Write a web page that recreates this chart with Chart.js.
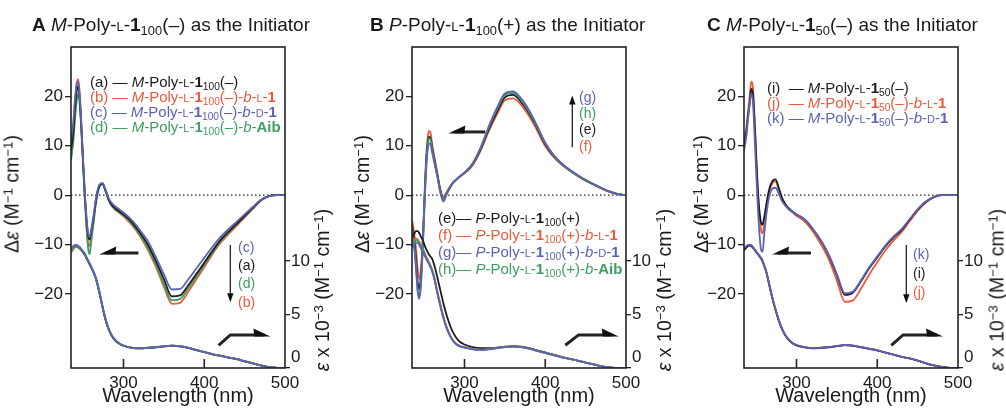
<!DOCTYPE html>
<html>
<head>
<meta charset="utf-8">
<script src="https://cdn.jsdelivr.net/npm/chart.js@4.4.1/dist/chart.umd.min.js"></script>
<style>
body{margin:0;background:#fff}
#fig{position:relative;width:1006px;height:411px;overflow:hidden;background:#fff;font-family:'Liberation Sans',Arial,Helvetica,sans-serif;color:#1a1a1a}
canvas{position:absolute;top:0}
.t{position:absolute;white-space:nowrap}
.sc{font-variant:small-caps}
sub{font-size:68%;vertical-align:-0.3em;line-height:0}
sup{font-size:68%;vertical-align:0.45em;line-height:0}
.ttl{font-size:19px;top:14px}
.leg{font-size:15px;line-height:15px}
.ax{font-size:19.5px;transform:translate(-50%,-50%) rotate(-90deg)}
.lab{font-size:14px;line-height:18px}
.k{color:#1c1c1c}.r{color:#ec5a3c}.b{color:#5c63b5}.g{color:#3f9e62}
</style>
</head>
<body>
<div id="fig">
<canvas id="cA"></canvas>
<canvas id="cB"></canvas>
<canvas id="cC"></canvas>

<div class="t ttl" style="left:32px"><b>A</b> <i>M</i>-Poly-<span class="sc">l</span>-<b>1</b><sub>100</sub>(–) as the Initiator</div>
<div class="t ttl" style="left:370px"><b>B</b> <i>P</i>-Poly-<span class="sc">l</span>-<b>1</b><sub>100</sub>(+) as the Initiator</div>
<div class="t ttl" style="left:707px"><b>C</b> <i>M</i>-Poly-<span class="sc">l</span>-<b>1</b><sub>50</sub>(–) as the Initiator</div>

<div class="t leg" style="left:90px;top:74px">
<div class="k">(a) — <i>M</i>-Poly-<span class="sc">l</span>-<b>1</b><sub>100</sub>(–)</div>
<div class="r">(b) — <i>M</i>-Poly-<span class="sc">l</span>-<b>1</b><sub>100</sub>(–)-<i>b</i>-<span class="sc">l</span>-<b>1</b></div>
<div class="b">(c) — <i>M</i>-Poly-<span class="sc">l</span>-<b>1</b><sub>100</sub>(–)-<i>b</i>-<span class="sc">d</span>-<b>1</b></div>
<div class="g">(d) — <i>M</i>-Poly-<span class="sc">l</span>-<b>1</b><sub>100</sub>(–)-<i>b</i>-<b>Aib</b></div>
</div>
<div class="t leg" style="left:438px;top:209px;line-height:17px">
<div class="k">(e)— <i>P</i>-Poly-<span class="sc">l</span>-<b>1</b><sub>100</sub>(+)</div>
<div class="r">(f) — <i>P</i>-Poly-<span class="sc">l</span>-<b>1</b><sub>100</sub>(+)-<i>b</i>-<span class="sc">l</span>-<b>1</b></div>
<div class="b">(g)— <i>P</i>-Poly-<span class="sc">l</span>-<b>1</b><sub>100</sub>(+)-<i>b</i>-<span class="sc">d</span>-<b>1</b></div>
<div class="g">(h)— <i>P</i>-Poly-<span class="sc">l</span>-<b>1</b><sub>100</sub>(+)-<i>b</i>-<b>Aib</b></div>
</div>
<div class="t leg" style="left:767px;top:80px">
<div class="k">(i)&nbsp; — <i>M</i>-Poly-<span class="sc">l</span>-<b>1</b><sub>50</sub>(–)</div>
<div class="r">(j)&nbsp; — <i>M</i>-Poly-<span class="sc">l</span>-<b>1</b><sub>50</sub>(–)-<i>b</i>-<span class="sc">l</span>-<b>1</b></div>
<div class="b">(k) — <i>M</i>-Poly-<span class="sc">l</span>-<b>1</b><sub>50</sub>(–)-<i>b</i>-<span class="sc">d</span>-<b>1</b></div>
</div>

<div class="t lab b" style="left:238px;top:238px">(c)</div>
<div class="t lab k" style="left:238px;top:256px">(a)</div>
<div class="t lab g" style="left:238px;top:274px">(d)</div>
<div class="t lab r" style="left:238px;top:293px">(b)</div>
<div class="t lab b" style="left:579px;top:88px">(g)</div>
<div class="t lab g" style="left:579px;top:104px">(h)</div>
<div class="t lab k" style="left:579px;top:120px">(e)</div>
<div class="t lab r" style="left:579px;top:137px">(f)</div>
<div class="t lab b" style="left:913px;top:245px">(k)</div>
<div class="t lab k" style="left:913px;top:264px">(i)</div>
<div class="t lab r" style="left:913px;top:283px">(j)</div>

<div class="t ax" style="left:12px;top:194px">Δ<i>ε</i> (M<sup>−1</sup> cm<sup>−1</sup>)</div>
<div class="t ax" style="left:362px;top:194px">Δ<i>ε</i> (M<sup>−1</sup> cm<sup>−1</sup>)</div>
<div class="t ax" style="left:701px;top:194px">Δ<i>ε</i> (M<sup>−1</sup> cm<sup>−1</sup>)</div>
<div class="t ax" style="left:322px;top:290px"><i>ε</i> x 10<sup>−3</sup> (M<sup>−1</sup> cm<sup>−1</sup>)</div>
<div class="t ax" style="left:664px;top:290px"><i>ε</i> x 10<sup>−3</sup> (M<sup>−1</sup> cm<sup>−1</sup>)</div>
<div class="t ax" style="left:997px;top:290px"><i>ε</i> x 10<sup>−3</sup> (M<sup>−1</sup> cm<sup>−1</sup>)</div>
</div>

<script>
// wavelength grid (nm) shared by every spectrum
const wl = [235,238,240,242,244,246,248,250,252,254,256,258,260,263,266,270,274,278,282,286,290,295,300,310,320,330,340,350,360,370,380,390,400,410,420,430,440,450,460,470,480,490,500];

// tick labels
const xTicks = [300, 400, 500];
const innerXTicks = [300, 400];
const cdTicks = [-20, -10, 0, 10, 20];
const absTicks = [0, 5, 10];

// panel A: CD (Δε) and absorption (ε x 10^-3)
const cdA_a = [9,13,17.5,21,22,19,13,6.5,0.5,-4.5,-8,-9,-7.5,-4.5,-1,1.8,2.3,0.8,-1,-2.1,-2.7,-3.3,-3.9,-5.4,-7.5,-10,-13.3,-17,-20.5,-20.3,-18.3,-16,-13.7,-11.3,-9.1,-7.4,-5.8,-4.2,-2.6,-1,-0.2,0,0];
const cdA_b = [10,14.5,19,22.5,23.5,20,14,7,0,-5.5,-9.5,-10.3,-8.5,-5,-1.2,1.9,2.5,0.9,-1.1,-2.3,-3,-3.6,-4.3,-6,-8.2,-11,-14.5,-18.5,-22,-21.8,-19.6,-17.1,-14.6,-12,-9.7,-7.9,-6.2,-4.5,-2.8,-1.1,-0.2,0,0];
const cdA_c = [11,15,19.5,22.5,23,19.5,13.5,7,1,-4,-7.5,-8.5,-7,-4,-0.5,2.1,2.4,1,-0.7,-1.7,-2.3,-2.9,-3.5,-5,-7,-9.3,-12.5,-16,-19.1,-19,-17.1,-14.9,-12.7,-10.5,-8.5,-6.9,-5.4,-3.9,-2.4,-1,-0.2,0,0];
const cdA_d = [7,11,15.5,19,20.5,18,12.5,6,-0.5,-6,-10.5,-12,-9.5,-5.5,-1.5,1.6,2.2,0.7,-1.1,-2.2,-2.9,-3.5,-4.1,-5.7,-7.9,-10.6,-14,-18,-21.3,-21,-18.9,-16.5,-14.1,-11.7,-9.4,-7.6,-5.9,-4.3,-2.7,-1.1,-0.2,0,0];
const absA_a = [11.1,11.3,11.4,11.4,11.3,11.2,11.0,10.8,10.6,10.3,10.0,9.7,9.4,8.9,8.3,7.1,5.7,4.45,3.55,2.95,2.55,2.27,2.08,1.88,1.83,1.88,1.93,2.03,2.08,2.03,1.88,1.68,1.48,1.28,1.13,0.98,0.83,0.63,0.43,0.24,0.07,0.02,0];
const absA_b = [10.8,11.1,11.3,11.3,11.25,11.15,11.0,10.8,10.6,10.3,10.0,9.7,9.4,8.9,8.3,7.1,5.7,4.45,3.55,2.95,2.55,2.27,2.08,1.88,1.83,1.88,1.93,2.03,2.08,2.03,1.88,1.68,1.48,1.28,1.13,0.98,0.83,0.63,0.43,0.24,0.07,0.02,0];
const absA_c = [11.2,11.4,11.5,11.5,11.4,11.3,11.1,10.9,10.7,10.4,10.1,9.8,9.5,9.0,8.4,7.2,5.8,4.5,3.6,3.0,2.6,2.3,2.1,1.9,1.85,1.9,1.95,2.05,2.1,2.05,1.9,1.7,1.5,1.3,1.15,1.0,0.85,0.65,0.45,0.25,0.08,0.02,0];
const absA_d = [11.0,11.2,11.35,11.4,11.3,11.2,11.0,10.85,10.65,10.35,10.05,9.75,9.45,8.95,8.35,7.15,5.75,4.5,3.6,3.0,2.6,2.3,2.1,1.9,1.84,1.89,1.94,2.04,2.09,2.04,1.89,1.69,1.49,1.29,1.14,0.99,0.84,0.64,0.44,0.25,0.08,0.02,0];

// panel B
const cdB_e = [-6,-9.5,-13,-17.5,-19,-16.5,-11,-3,5,10,11.8,11.5,9.5,7,4.5,1.0,-0.8,0.4,1.6,2.6,3.2,3.9,4.5,6.2,9.3,13.3,16.8,19.8,20.3,18.9,16.6,13.6,10.3,8.0,6.4,5.1,4.0,3.0,2.2,1.4,0.7,0.2,0];
const cdB_f = [-5,-8,-11,-15,-17,-15,-10,-2,6,11,13,12.6,10.3,7.5,4.8,1.3,-0.3,0.6,1.7,2.6,3.1,3.8,4.4,6.0,9.0,12.9,16.3,19.2,19.6,18.3,16.0,13.1,9.9,7.8,6.2,5.0,3.9,2.9,2.1,1.3,0.6,0.2,0];
const cdB_g = [-7,-11,-15,-19.5,-21,-18.5,-12,-4,3.5,8.5,10.5,10.3,8.6,6.3,4.0,0.6,-1.3,0.2,1.5,2.5,3.2,3.9,4.6,6.4,9.7,13.9,17.6,20.6,21.0,19.6,17.2,14.0,10.6,8.2,6.5,5.2,4.1,3.1,2.2,1.4,0.7,0.2,0];
const cdB_h = [-6.5,-10.5,-14.5,-19,-20.5,-18,-11.5,-3.5,4.5,9.5,11.5,11.2,9.2,6.7,4.3,0.8,-1.0,0.3,1.5,2.5,3.2,3.9,4.5,6.3,9.5,13.7,17.3,20.3,20.7,19.3,16.9,13.8,10.5,8.1,6.4,5.1,4.0,3.0,2.2,1.4,0.7,0.2,0];
const absB_e = [12.2,12.6,12.8,12.8,12.6,12.3,12.0,11.6,11.2,10.9,10.6,10.4,10.2,9.5,8.6,7.3,6.0,4.9,4.0,3.3,2.8,2.4,2.2,1.95,1.85,1.85,1.9,2.0,2.05,2.0,1.85,1.65,1.45,1.25,1.05,0.85,0.7,0.5,0.33,0.15,0.05,0,0];
const absB_f = [11.7,12.0,12.1,12.0,11.8,11.5,11.2,10.9,10.5,10.2,9.9,9.6,9.2,8.4,7.3,6.0,4.8,3.8,3.1,2.6,2.25,2.05,1.95,1.8,1.72,1.77,1.87,1.97,2.02,1.97,1.82,1.62,1.42,1.22,1.02,0.86,0.7,0.5,0.33,0.15,0.05,0,0];
const absB_g = [11.3,11.6,11.7,11.7,11.5,11.2,10.9,10.6,10.3,10.0,9.7,9.4,9.0,8.2,7.1,5.8,4.6,3.7,3.0,2.5,2.2,2.0,1.9,1.75,1.7,1.75,1.85,1.95,2.0,1.95,1.8,1.6,1.4,1.2,1.0,0.85,0.7,0.5,0.33,0.15,0.05,0,0];
const absB_h = [11.5,11.8,11.9,11.9,11.7,11.4,11.1,10.8,10.4,10.1,9.8,9.5,9.1,8.3,7.2,5.9,4.7,3.75,3.05,2.55,2.22,2.02,1.92,1.77,1.71,1.76,1.86,1.96,2.01,1.96,1.81,1.61,1.41,1.21,1.01,0.85,0.7,0.5,0.33,0.15,0.05,0,0];

// panel C
const cdC_i = [10,13,16,18.5,21.5,20.5,15,8,1.5,-3,-5.5,-6,-4.5,-1.5,1,2.8,3.2,1.5,-0.5,-1.8,-2.6,-3.3,-3.9,-4.9,-6.8,-9.2,-12.2,-16.2,-20.2,-19.7,-17.4,-14.8,-12.6,-10.4,-8.6,-7.1,-5.0,-3.0,-1.4,-0.4,0,0,0];
const cdC_j = [10.5,13.5,17,20,23,22,16,8.5,1,-4,-7,-7.7,-6,-2.5,0.5,2.4,2.8,1.2,-0.8,-2.0,-2.8,-3.5,-4.2,-5.3,-7.3,-9.9,-13.0,-17.3,-21.6,-21.3,-18.9,-16.1,-13.6,-11.2,-9.2,-7.5,-5.3,-3.2,-1.5,-0.4,0,0,0];
const cdC_k = [9,12,15.5,18.5,20.5,19,12.5,5,-2,-7.5,-11,-11.5,-8,-3.5,-0.5,1.3,1.5,0.3,-1.2,-2.1,-2.8,-3.4,-3.9,-4.9,-6.8,-9.1,-12.1,-16.0,-19.9,-19.5,-17.2,-14.6,-12.4,-10.2,-8.4,-6.9,-4.9,-2.9,-1.3,-0.4,0,0,0];
const absC_i = [11.0,11.25,11.4,11.45,11.4,11.25,11.05,10.85,10.65,10.45,10.25,9.95,9.55,8.85,7.85,6.55,5.45,4.45,3.65,3.05,2.65,2.32,2.12,1.93,1.84,1.88,1.94,2.04,2.13,2.08,1.94,1.79,1.64,1.44,1.24,1.04,0.89,0.69,0.44,0.24,0.1,0.02,0];
const absC_j = [11.1,11.3,11.45,11.5,11.45,11.3,11.1,10.9,10.7,10.5,10.3,10.0,9.6,8.9,7.9,6.6,5.5,4.5,3.7,3.1,2.7,2.35,2.15,1.95,1.85,1.9,1.95,2.05,2.15,2.1,1.95,1.8,1.65,1.45,1.25,1.05,0.9,0.7,0.45,0.25,0.1,0.02,0];
const absC_k = [11.2,11.4,11.5,11.5,11.5,11.3,11.1,10.9,10.7,10.5,10.3,10.0,9.6,8.9,7.9,6.6,5.5,4.5,3.7,3.1,2.7,2.35,2.15,1.95,1.85,1.9,1.95,2.05,2.15,2.1,1.95,1.8,1.65,1.45,1.25,1.05,0.9,0.7,0.45,0.25,0.1,0.02,0];

// annotation arrows, in data units [nm, Δε]
const harpA = [[[318.5,-11.7],[270,-11.7]], [[417.8,-30.4],[432.3,-28.3],[481.9,-28.3]]];
const harpB = [[[325.6,12.8],[280,12.8]], [[424.8,-30.4],[441.3,-28.3],[491,-28.3]]];
const harpC = [[[318,-11.7],[269.7,-11.7]], [[417.4,-30.4],[432,-28.3],[481.5,-28.3]]];
const arrowA = {x: 432.3, from: -10.1, to: -21.7};
const arrowB = {x: 433.5, from: 9.7, to: 20.2};
const arrowC = {x: 436, from: -10.1, to: -21.9};

const K = '#1c1c1c', R = '#ec5a3c', B = '#5c63b5', G = '#3f9e62';
const INK = '#1a1a1a';

Chart.defaults.font.family = "'Liberation Sans', Arial, Helvetica, sans-serif";
Chart.defaults.color = INK;

function harpoon(ctx, pts) {
    const n = pts.length;
    const [tx, ty] = pts[n - 1], [px, py] = pts[n - 2];
    const len = Math.hypot(tx - px, ty - py);
    const ux = (tx - px) / len, uy = (ty - py) / len;
    ctx.lineWidth = 3;
    ctx.lineJoin = 'miter';
    ctx.beginPath();
    ctx.moveTo(pts[0][0], pts[0][1]);
    for (let i = 1; i < n - 1; i++) ctx.lineTo(pts[i][0], pts[i][1]);
    ctx.lineTo(tx - ux * 6, ty - uy * 6);
    ctx.stroke();
    ctx.beginPath();
    ctx.moveTo(tx, ty + 1.5);
    ctx.lineTo(tx - ux * 16, ty - uy * 16 + 1.5);
    ctx.lineTo(tx - ux * 17, ty - uy * 17 - 6.5);
    ctx.closePath();
    ctx.fill();
}

function vArrow(ctx, x, y0, y1) {
    const d = Math.sign(y1 - y0);
    ctx.lineWidth = 1.3;
    ctx.beginPath();
    ctx.moveTo(x, y0);
    ctx.lineTo(x, y1 - d * 7);
    ctx.stroke();
    ctx.beginPath();
    ctx.moveTo(x, y1);
    ctx.lineTo(x - 3.2, y1 - d * 9);
    ctx.lineTo(x + 3.2, y1 - d * 9);
    ctx.closePath();
    ctx.fill();
}

const decor = {
    id: 'decor',
    beforeDatasetsDraw(chart) {
        const {ctx, chartArea: a, scales: {y}} = chart;
        const y0 = y.getPixelForValue(0);
        ctx.save();
        ctx.strokeStyle = '#222';
        ctx.lineWidth = 1.2;
        ctx.setLineDash([1.5, 2.5]);
        ctx.beginPath();
        ctx.moveTo(a.left, y0);
        ctx.lineTo(a.right, y0);
        ctx.stroke();
        ctx.restore();
    },
    afterDraw(chart, args, o) {
        const {ctx, chartArea: a, scales: {x, y}} = chart;
        ctx.save();
        ctx.strokeStyle = '#222';
        ctx.fillStyle = '#111';
        ctx.lineWidth = 1.6;
        ctx.strokeRect(a.left, a.top, a.right - a.left, a.bottom - a.top);
        innerXTicks.forEach(v => {
            const px = x.getPixelForValue(v);
            ctx.beginPath();
            ctx.moveTo(px, a.bottom);
            ctx.lineTo(px, a.bottom - 9);
            ctx.stroke();
        });
        (o.harpoons || []).forEach(h => harpoon(ctx, h.map(p => [x.getPixelForValue(p[0]), y.getPixelForValue(p[1])])));
        if (o.arrow) vArrow(ctx, x.getPixelForValue(o.arrow.x), y.getPixelForValue(o.arrow.from), y.getPixelForValue(o.arrow.to));
        // the 0 of the right axis sits just above the bottom frame
        ctx.fillStyle = INK;
        ctx.font = "17px 'Liberation Sans', Arial, sans-serif";
        ctx.textBaseline = 'middle';
        ctx.textAlign = 'left';
        ctx.fillText('0', a.right + 6, a.bottom - 11);
        ctx.restore();
    }
};

function series(values, color, axis) {
    return {
        data: values.map((v, i) => ({x: wl[i], y: v})),
        borderColor: color,
        borderWidth: 1.8,
        yAxisID: axis,
        pointRadius: 0,
        cubicInterpolationMode: 'monotone',
        fill: false
    };
}

function fmt(v) {
    return v < 0 ? '\u2212' + Math.abs(v) : String(v);
}

function makePanel(id, left, width, leftW, rightW, datasets, deco) {
    const cv = document.getElementById(id);
    cv.width = width;
    cv.height = 411;
    cv.style.left = left + 'px';
    return new Chart(cv.getContext('2d'), {
        type: 'line',
        data: {datasets: datasets},
        options: {
            responsive: false,
            animation: false,
            events: [],
            layout: {padding: {top: 47, left: 0, right: 0, bottom: 0}},
            plugins: {legend: {display: false}, tooltip: {enabled: false}, decor: deco},
            scales: {
                x: {
                    type: 'linear', min: 235, max: 500,
                    afterBuildTicks: s => { s.ticks = xTicks.map(v => ({value: v})); },
                    afterFit: s => { s.height = 43; },
                    grid: {display: false, drawTicks: false},
                    border: {display: false},
                    ticks: {padding: 5, font: {size: 17}, maxRotation: 0, autoSkip: false},
                    title: {display: true, text: 'Wavelength (nm)', font: {size: 20}, padding: {top: 0, bottom: 3}}
                },
                y: {
                    position: 'left', min: -35, max: 30,
                    afterBuildTicks: s => { s.ticks = cdTicks.map(v => ({value: v})); },
                    afterFit: s => { s.width = leftW; },
                    grid: {drawOnChartArea: false, tickLength: 6, color: '#222', lineWidth: 1.3},
                    border: {display: false},
                    ticks: {padding: 2, font: {size: 17}, callback: v => fmt(v)}
                },
                y1: {
                    position: 'right', min: 0, max: 30,
                    afterBuildTicks: s => { s.ticks = absTicks.map(v => ({value: v})); },
                    afterFit: s => { s.width = rightW; },
                    grid: {drawOnChartArea: false, tickLength: 5, color: '#222', lineWidth: 1.3},
                    border: {display: false},
                    ticks: {padding: 1, font: {size: 17}, callback: v => (v === 0 ? '' : String(v))}
                }
            }
        },
        plugins: [decor]
    });
}

makePanel('cA', 0, 325, 71, 40, [
    series(absA_c, B, 'y1'), series(absA_d, G, 'y1'), series(absA_a, K, 'y1'), series(absA_b, R, 'y1'),
    series(cdA_c, B, 'y'), series(cdA_a, K, 'y'), series(cdA_d, G, 'y'), series(cdA_b, R, 'y')
], {harpoons: harpA, arrow: arrowA});

makePanel('cB', 340, 330, 72, 44, [
    series(absB_g, B, 'y1'), series(absB_h, G, 'y1'), series(absB_f, R, 'y1'), series(absB_e, K, 'y1'),
    series(cdB_g, B, 'y'), series(cdB_h, G, 'y'), series(cdB_e, K, 'y'), series(cdB_f, R, 'y')
], {harpoons: harpB, arrow: arrowB});

makePanel('cC', 676, 330, 68, 48, [
    series(absC_k, B, 'y1'), series(absC_i, K, 'y1'), series(absC_j, R, 'y1'),
    series(cdC_k, B, 'y'), series(cdC_i, K, 'y'), series(cdC_j, R, 'y')
], {harpoons: harpC, arrow: arrowC});
</script>
</body>
</html>
